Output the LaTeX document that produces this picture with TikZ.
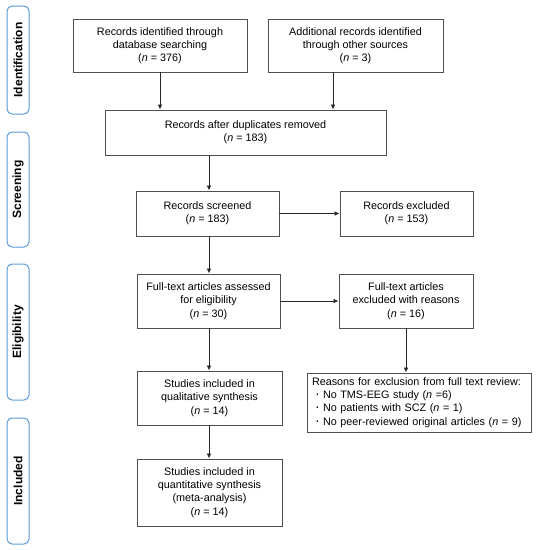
\documentclass[tikz,border=0pt]{standalone}
\usepackage{fontspec}
\setmainfont{Liberation Sans}
\usetikzlibrary{arrows.meta}
\definecolor{boxline}{HTML}{505050}
\definecolor{sideline}{HTML}{5B9BD5}
\newcommand{\mybul}{\makebox[11pt]{\fontsize{14}{13.3}\selectfont·}}
\tikzset{
  box/.style={draw=boxline, line width=0.9pt, rectangle, align=center, inner sep=0pt,
    font=\fontsize{10.8}{13.3}\selectfont},
  side/.style={draw=sideline, line width=1pt, rounded corners=5pt, rectangle, inner sep=0pt,
    minimum width=22pt},
  sidetext/.style={rotate=90, font=\fontsize{12}{14}\selectfont\bfseries},
  arr/.style={draw=black!85, line width=0.8pt, -{Latex[length=5pt,width=4.5pt]}}
}
\begin{document}
\begin{tikzpicture}[x=1pt,y=-1pt]
\useasboundingbox (0,0) rectangle (538,550);
% side labels
\node[side, minimum height=108pt] (s1) at (18,60) {};
\node[sidetext] (t1) at (s1.center) {Identification};
\node[side, minimum height=115pt] (s2) at (18,189.5) {};
\node[sidetext] (t2) at (s2.center) {Screening};
\node[side, minimum height=136pt] (s3) at (18,332) {};
\node[sidetext] (t3) at (s3.center) {Eligibility};
\node[side, minimum height=126pt] (s4) at (18,481) {};
\node[sidetext] (t4) at (s4.center) {Included};
% boxes
\node[box, minimum width=174pt, minimum height=53pt] (b1) at (160,45.5)
  {Records identified through\\database searching\\(\textit{n} = 376)};
\node[box, minimum width=175pt, minimum height=53pt] (b2) at (355.5,45.5)
  {Additional records identified\\through other sources\\(\textit{n} = 3)};
\node[box, minimum width=281pt, minimum height=45pt] (b3) at (245.5,132.5)
  {Records after duplicates removed\\(\textit{n} = 183)};
\node[box, minimum width=143pt, minimum height=45pt] (b4) at (207.5,213.5)
  {Records screened\\(\textit{n} = 183)};
\node[box, minimum width=133pt, minimum height=45pt] (b5) at (406.5,213.5)
  {Records excluded\\(\textit{n} = 153)};
\node[box, minimum width=143pt, minimum height=54pt] (b6) at (208.5,301)
  {Full-text articles assessed\\for eligibility\\(\textit{n} = 30)};
\node[box, minimum width=134pt, minimum height=54pt] (b7) at (406,301)
  {Full-text articles\\excluded with reasons\\(\textit{n} = 16)};
\node[box, minimum width=222pt, minimum height=59pt, align=left, text width=214pt, inner xsep=5pt] (b8) at (419,402.5)
  {Reasons for exclusion from full text review:\\
   \mybul No TMS-EEG study (\textit{n} =6)\\
   \mybul No patients with SCZ (\textit{n} = 1)\\
   \mybul No peer-reviewed original articles (\textit{n} = 9)};
\node[box, minimum width=145pt, minimum height=54pt] (b9) at (209.5,398)
  {Studies included in\\qualitative synthesis\\(\textit{n} = 14)};
\node[box, minimum width=145pt, minimum height=67pt] (b10) at (209.5,492.5)
  {Studies included in\\quantitative synthesis\\(meta-analysis)\\(\textit{n} = 14)};
% arrows
\coordinate (c1) at (160,0);
\coordinate (c2) at (333,0);
\coordinate (cm) at (209,0);
\draw[arr] (b1.south -| c1) -- (b3.north -| c1);
\draw[arr] (b2.south -| c2) -- (b3.north -| c2);
\draw[arr] (b3.south -| cm) -- (b4.north -| cm);
\draw[arr] (b4.east) -- (b5.west);
\draw[arr] (b4.south -| cm) -- (b6.north -| cm);
\draw[arr] (b6.east) -- (b7.west);
\draw[arr] (b7.south) -- (b8.north -| b7.south);
\draw[arr] (b6.south -| cm) -- (b9.north -| cm);
\draw[arr] (b9.south -| cm) -- (b10.north -| cm);
\end{tikzpicture}
\end{document}
